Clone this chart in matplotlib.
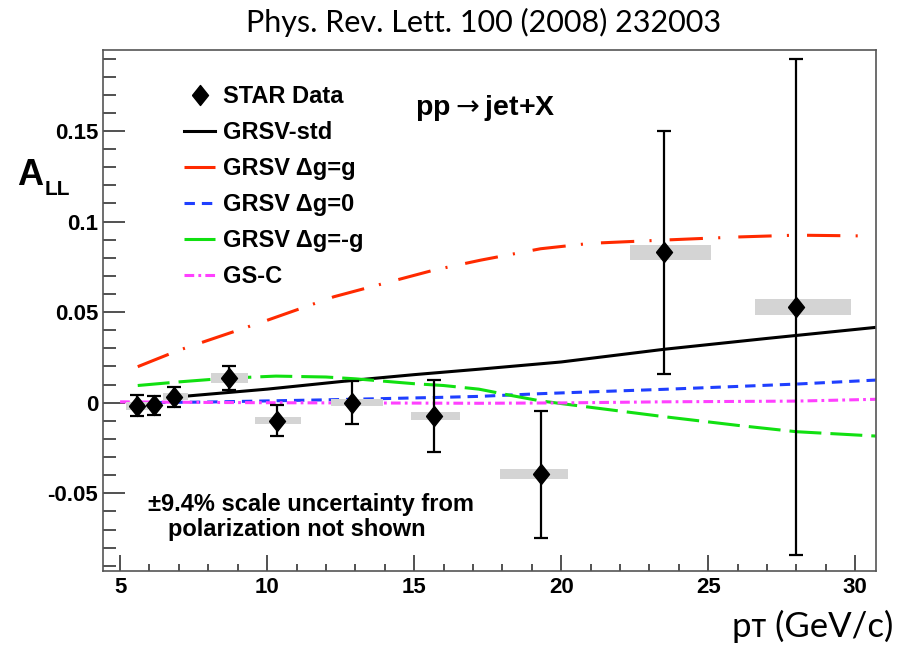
"""
STAR A_LL (pp -> jet + X) 재현 스크립트
PRL 100 (2008) 232003 그림을 matplotlib로 다시 그림
"""

import matplotlib
matplotlib.use('Agg')
import matplotlib.pyplot as plt
from matplotlib.ticker import MultipleLocator

plt.rcParams['lines.scale_dashes'] = False  # dash 길이를 pt 단위로 직접 지정
plt.rcParams['mathtext.fontset'] = 'dejavusans'

# ===== 1. 데이터 =====
# STAR 데이터 점 (pT, A_LL, stat 오차)
pt = [5.59, 6.15, 6.83, 8.69, 10.35, 12.9, 15.66, 19.32, 23.5, 27.97]
all_val = [-0.0018, -0.0015, 0.0033, 0.0135, -0.0099, 0.0000, -0.0073, -0.0395, 0.083, 0.0528]
stat_err = [0.0058, 0.0052, 0.0055, 0.0065, 0.0085, 0.012, 0.020, 0.035, 0.067, 0.137]

# 계통오차 박스 (x 범위, y 반높이)
box_lo = [5.2, 5.95, 6.45, 8.1, 9.6, 12.18, 14.9, 17.93, 22.35, 26.6]
box_hi = [5.95, 6.4, 7.3, 9.34, 11.15, 13.95, 16.55, 20.24, 25.1, 29.85]
sys_err = [0.002, 0.002, 0.002, 0.0028, 0.002, 0.0018, 0.002, 0.0028, 0.004, 0.0045]

# 이론 곡선들
std_x = [7.0, 10.0, 13.0, 15.0, 17.2, 20.0, 23.5, 27.0, 30.7]
std_y = [0.0033, 0.0075, 0.0125, 0.0155, 0.0185, 0.0225, 0.0295, 0.0355, 0.0416]

gmax_x = [5.6, 7.0, 8.86, 10.0, 12.27, 14.0, 15.67, 17.26, 19.3, 21.0, 23.5, 26.0, 28.0, 30.7]
gmax_y = [0.0199, 0.029, 0.0392, 0.0455, 0.0585, 0.066, 0.0732, 0.0787, 0.085, 0.088, 0.0898, 0.0915, 0.0925, 0.092]

gzero_x = [5.6, 8.0, 10.0, 12.0, 14.0, 16.0, 17.2, 19.3, 21.0, 23.5, 26.0, 28.0, 30.7]
gzero_y = [0.0, 0.0004, 0.001, 0.0016, 0.0023, 0.003, 0.0035, 0.005, 0.006, 0.0074, 0.009, 0.0103, 0.0125]

gmin_x = [5.6, 7.0, 8.6, 10.3, 12.0, 13.0, 15.0, 16.0, 17.2, 18.3, 19.3, 20.5, 23.5, 26.0, 28.0, 30.7]
gmin_y = [0.0095, 0.0115, 0.0135, 0.0147, 0.0142, 0.0132, 0.0105, 0.0095, 0.0075, 0.004, 0.001,
          -0.0015, -0.0077, -0.0125, -0.016, -0.0184]

gsc_x = [5.0, 7.5, 10.0, 15.0, 17.2, 20.0, 23.5, 28.0, 30.7]
gsc_y = [0.0005, 0.0002, 0.0, -0.0002, -0.0003, -0.0001, 0.0005, 0.0009, 0.0019]

y_ticks = [-0.05, 0, 0.05, 0.1, 0.15]
y_tick_labels = ['-0.05', '0', '0.05', '0.1', '0.15']
x_ticks = [5, 10, 15, 20, 25, 30]

# ===== 2. 그림 =====
fig = plt.figure(figsize=(9.07, 6.48), dpi=100)
ax = fig.add_axes([0.1136, 0.1188, 0.852, 0.804])

LW = 2.2
l_std, = ax.plot(std_x, std_y, color='black', lw=LW, zorder=2, label='GRSV-std')
l_max, = ax.plot(gmax_x, gmax_y, color='#ff2a00', lw=LW, dashes=(24, 11, 1.5, 13), zorder=2,
                 label='GRSV \u0394g=g')
l_zero, = ax.plot(gzero_x, gzero_y, color='#1f3fff', lw=LW, dashes=(7.5, 5), zorder=2,
                  label='GRSV \u0394g=0')
l_min, = ax.plot(gmin_x, gmin_y, color='#11e011', lw=LW, dashes=(23, 6.5), zorder=2,
                 label='GRSV \u0394g=-g')
l_gsc, = ax.plot(gsc_x, gsc_y, color='#ff40ff', lw=LW, dashes=(7, 3, 2, 3), zorder=2,
                 label='GS-C')

# 계통오차 박스
centers = [(lo + hi) / 2 for lo, hi in zip(box_lo, box_hi)]
widths = [hi - lo for lo, hi in zip(box_lo, box_hi)]
bottoms = [v - s for v, s in zip(all_val, sys_err)]
heights = [2 * s for s in sys_err]
ax.bar(centers, heights, width=widths, bottom=bottoms, color='#d4d4d4', zorder=3)

# 통계오차 + 데이터 점
ax.errorbar(pt, all_val, yerr=stat_err, fmt='none', ecolor='black', elinewidth=1.6,
            capsize=5, capthick=1.6, zorder=4)
diamond = [(-0.8, 0), (0, 1), (0.8, 0), (0, -1), (-0.8, 0)]
l_dat, = ax.plot(pt, all_val, ls='none', marker=diamond, ms=14.4, color='black', zorder=5,
                 label='STAR Data')

# ===== 3. 축 =====
ax.set_xlim(4.42, 30.7)
ax.set_ylim(-0.0929, 0.1947)
ax.set_xticks(x_ticks)
ax.set_yticks(y_ticks)
ax.set_yticklabels(y_tick_labels)
ax.xaxis.set_minor_locator(MultipleLocator(1))
ax.yaxis.set_minor_locator(MultipleLocator(0.01))
ax.tick_params(axis='both', which='both', direction='in', color='#333333', width=1.2,
               labelsize=16, top=False, right=False)
ax.tick_params(axis='y', which='major', length=16, pad=3.5)
ax.tick_params(axis='y', which='minor', length=9)
ax.tick_params(axis='x', which='major', length=11.5, pad=4)
ax.tick_params(axis='x', which='minor', length=5)
for lab in ax.get_xticklabels() + ax.get_yticklabels():
    lab.set_family('Liberation Sans')
    lab.set_fontweight('bold')
for sp in ax.spines.values():
    sp.set_color('#555555')
    sp.set_linewidth(1.2)

# 범례
leg = ax.legend(handles=[l_dat, l_std, l_max, l_zero, l_min, l_gsc], loc='upper left',
                bbox_to_anchor=(0.105, 0.932), frameon=False, borderpad=0, borderaxespad=0,
                handlelength=1.31, handletextpad=0.32, labelspacing=0.55, numpoints=1,
                prop={'family': 'Liberation Sans', 'weight': 'bold', 'size': 17})

# ===== 4. 텍스트 =====
ax.text(0.494, 0.888, r'pp$\rightarrow$jet+X', transform=ax.transAxes, ha='center', va='center',
        fontsize=20.5, fontweight='bold', family='Liberation Sans')
ax.text(0.269, 0.115, '\u00b19.4% scale uncertainty from', transform=ax.transAxes,
        ha='center', va='baseline', fontsize=17, fontweight='bold', family='Liberation Sans')
ax.text(0.251, 0.067, 'polarization not shown', transform=ax.transAxes,
        ha='center', va='baseline', fontsize=17, fontweight='bold', family='Liberation Sans')

fig.text(17 / 907, 1 - 185 / 648, 'A', ha='left', va='baseline', fontsize=26,
         fontweight='bold', family='Liberation Sans')
fig.text(45 / 907, 1 - 195 / 648, 'LL', ha='left', va='baseline', fontsize=15,
         fontweight='bold', family='Liberation Sans')

fig.text(0.533, 1 - 22 / 648, 'Phys. Rev. Lett. 100 (2008) 232003', ha='center', va='center',
         fontsize=22, family=['Lato', 'DejaVu Sans'])
fig.text(893 / 907, 1 - 637 / 648, 'p\u1d1b (GeV/c)', ha='right', va='baseline',
         fontsize=25, family=['Lato', 'DejaVu Sans'])

fig.savefig('out.png', dpi=100)
print('saved out.png')
